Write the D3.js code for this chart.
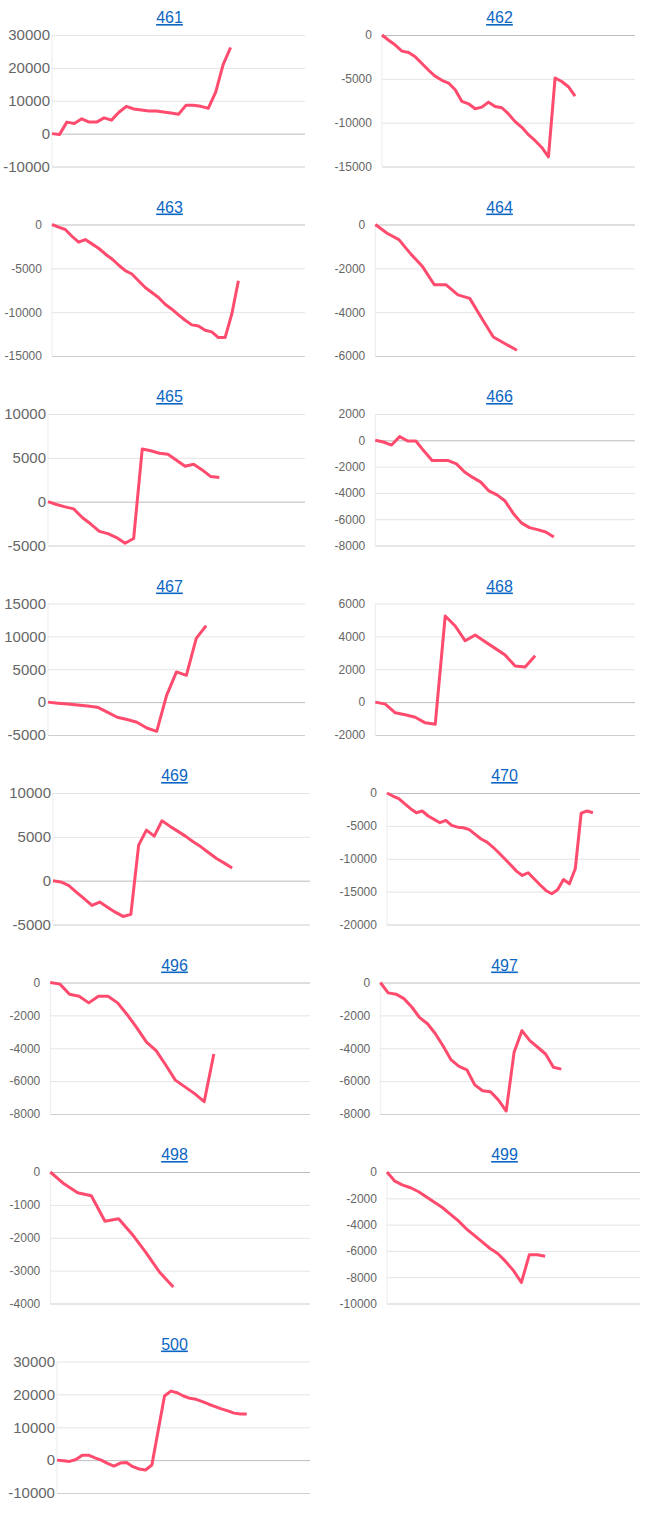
<!DOCTYPE html>
<html>
<head>
<meta charset="utf-8">
<script src="https://cdn.jsdelivr.net/npm/d3@7"></script>
<style>
  body { margin: 0; background: #fff; }
  svg { display: block; font-family: "Liberation Sans", Arial, sans-serif; }
</style>
</head>
<body>
<svg id="charts" width="650" height="1516"></svg>
<script>
// one small array per account
const v461 = [0, -300, 3500, 3100, 4500, 3500, 3500, 4800, 4100, 6500, 8300, 7500, 7200, 6900, 6900, 6600, 6300, 5900, 8600, 8600, 8300, 7700, 12600, 21000, 26200];
const v462 = [0, -600, -1150, -1840, -2000, -2490, -3250, -4020, -4710, -5170, -5480, -6250, -7580, -7850, -8420, -8230, -7660, -8150, -8300, -9000, -9880, -10530, -11370, -12060, -12830, -13900, -4900, -5300, -5900, -6960];
const v463 = [0, -300, -570, -1340, -2020, -1720, -2210, -2710, -3360, -3930, -4620, -5270, -5650, -6410, -7180, -7750, -8320, -9090, -9660, -10300, -10920, -11450, -11570, -12060, -12250, -12900, -12900, -10230, -6410];
const v464 = [0, -400, -690, -1340, -1920, -2750, -2750, -3210, -3370, -4270, -5130, -5440, -5740];
const v465 = [0, -320, -590, -820, -1800, -2550, -3390, -3650, -4100, -4750, -4200, 6000, 5800, 5530, 5420, 4730, 4050, 4270, 3620, 2860, 2750];
const v466 = [0, -130, -360, 280, -50, -50, -820, -1540, -1540, -1540, -1790, -2410, -2820, -3180, -3850, -4150, -4620, -5560, -6280, -6640, -6790, -6970, -7360];
const v467 = [0, -160, -300, -440, -590, -770, -1530, -2300, -2650, -3060, -3930, -4440, 1020, 4590, 4080, 9690, 11630];
const v468 = [0, -120, -650, -770, -920, -1260, -1350, 5240, 4630, 3730, 4080, 3670, 3270, 2860, 2200, 2140, 2820];
const v469 = [0, -150, -530, -1300, -2060, -2820, -2440, -3020, -3590, -4080, -3850, 4050, 5760, 5080, 6830, 6220, 5650, 5080, 4430, 3860, 3180, 2520, 2000, 1450];
const v470 = [0, -460, -860, -1620, -2390, -3000, -2740, -3500, -4010, -4520, -4160, -4920, -5200, -5280, -5580, -6300, -7000, -7460, -8220, -9090, -10000, -10910, -11880, -12540, -12130, -13050, -13960, -14820, -15330, -14720, -13150, -13810, -11520, -3050, -2740, -3000];
const v496 = [0, -100, -710, -840, -1240, -840, -840, -1240, -1960, -2760, -3630, -4140, -5020, -5940, -6350, -6760, -7250, -4350];
const v497 = [0, -630, -710, -980, -1490, -2140, -2510, -3120, -3880, -4710, -5100, -5310, -6230, -6590, -6650, -7140, -7820, -4250, -2930, -3540, -3940, -4350, -5160, -5270];
const v498 = [0, -360, -630, -720, -1500, -1420, -1900, -2450, -3050, -3500];
const v499 = [0, -700, -1000, -1200, -1500, -1900, -2300, -2700, -3200, -3700, -4300, -4800, -5300, -5800, -6200, -6800, -7500, -8400, -6300, -6300, -6400];
const v500 = [0, -200, -400, 200, 1500, 1500, 700, 0, -1000, -1800, -900, -700, -2000, -2700, -3000, -1500, 9000, 19500, 21000, 20500, 19500, 18800, 18500, 17800, 17000, 16300, 15600, 15000, 14300, 14000, 14000];

const TITLES = ["461", "462", "463", "464", "465", "466", "467", "468", "469", "470", "496", "497", "498", "499", "500"];
const SERIES = [v461, v462, v463, v464, v465, v466, v467, v468, v469, v470, v496, v497, v498, v499, v500];

// y tick labels of each chart
const TICKS = [
  [-10000, 0, 10000, 20000, 30000],
  [-15000, -10000, -5000, 0],
  [-15000, -10000, -5000, 0],
  [-6000, -4000, -2000, 0],
  [-5000, 0, 5000, 10000],
  [-8000, -6000, -4000, -2000, 0, 2000],
  [-5000, 0, 5000, 10000, 15000],
  [-2000, 0, 2000, 4000, 6000],
  [-5000, 0, 5000, 10000],
  [-20000, -15000, -10000, -5000, 0],
  [-8000, -6000, -4000, -2000, 0],
  [-8000, -6000, -4000, -2000, 0],
  [-4000, -3000, -2000, -1000, 0],
  [-10000, -8000, -6000, -4000, -2000, 0],
  [-10000, 0, 10000, 20000, 30000]
];

// number of x categories on each chart (the line stops before the end)
const SLOTS = [35, 39, 39, 23, 31, 33, 27, 27, 34, 44, 28, 34, 20, 33, 41];

// charts whose tick labels are drawn larger
const BIG_LABELS = ["461", "465", "467", "469", "500"];

const CELL_W = 330;
const ROW_H = 189.5;
const PLOT_TOP = 35;
const PLOT_H = 131.5;
const PLOT_RIGHT = 305;
const LINE_COLOR = "#ff4b6e";

const svg = d3.select("#charts");

// measure label widths at the normal 12px size, used for the left margin
const probe = svg.append("text").attr("font-size", 12).attr("visibility", "hidden");
function labelWidth(s) {
  probe.text(s);
  return probe.node().getComputedTextLength();
}

TITLES.forEach((title, i) => {
  const row = Math.floor(i / 2);
  const col = i % 2;
  const x0 = col * CELL_W + (row >= 4 ? 5 : 0);
  const top = PLOT_TOP + row * ROW_H;
  const bottom = top + PLOT_H;
  const ticks = TICKS[i];
  const data = SERIES[i];
  const big = BIG_LABELS.includes(title);

  const maxW = d3.max(ticks, t => labelWidth(String(t)));
  const left = x0 + 14.6 + maxW;
  const right = x0 + PLOT_RIGHT;

  const g = svg.append("g").attr("class", "chart");

  // Title
  g.append("text")
    .attr("x", x0 + 169.5)
    .attr("y", top - 12)
    .attr("text-anchor", "middle")
    .attr("font-size", 16)
    .attr("fill", "#0b66c3")
    .attr("text-decoration", "underline")
    .text(title);

  // Scales
  const yScale = d3.scaleLinear().domain([ticks[0], ticks[ticks.length - 1]]).range([bottom, top]);
  const xScale = d3.scaleLinear().domain([0, SLOTS[i] - 1]).range([left, right]);

  // Left border of the plot
  g.append("line")
    .attr("x1", left).attr("x2", left)
    .attr("y1", top).attr("y2", bottom)
    .attr("stroke", "#ebebeb");

  // Y grid + labels
  const yAxis = g.append("g")
    .attr("transform", `translate(${left},0)`)
    .call(d3.axisLeft(yScale)
      .tickValues(ticks)
      .tickSize(-(right - left))
      .tickPadding(big ? 2 : 10)
      .tickFormat(d => String(d)));

  yAxis.select(".domain").remove();
  yAxis.selectAll(".tick line")
    .attr("stroke", d => d === 0 ? "#bdbdbd" : (d === ticks[0] ? "#cfcfcf" : "#e4e4e4"));
  yAxis.selectAll(".tick text")
    .attr("fill", "#666")
    .attr("font-size", big ? 15 : 12)
    .attr("font-family", "'Liberation Sans', Arial, sans-serif");

  // Line
  const line = d3.line()
    .x((d, j) => xScale(j))
    .y(d => yScale(d));

  g.append("path")
    .datum(data)
    .attr("d", line)
    .attr("fill", "none")
    .attr("stroke", LINE_COLOR)
    .attr("stroke-width", 3)
    .attr("stroke-linejoin", "round");
});

probe.remove();
</script>
</body>
</html>
